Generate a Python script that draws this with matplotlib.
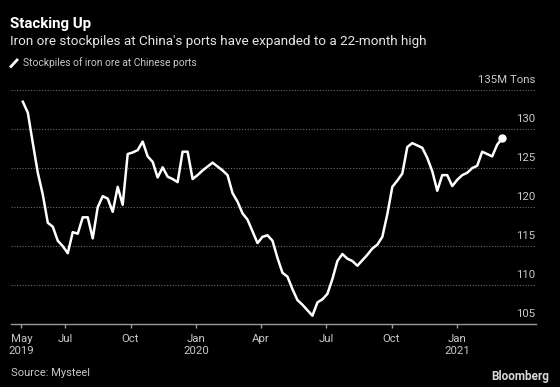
import matplotlib
matplotlib.use("Agg")
import matplotlib.pyplot as plt
import matplotlib.dates as mdates
import matplotlib.transforms as mtransforms
import numpy as np
import pandas as pd

# ---- data ----
start_date = "2019-05-03"
stockpiles = [133.5, 132.1, 128.2, 124.4, 121.6, 118.0, 117.5, 115.7, 115.0, 114.1,
              116.8, 116.6, 118.7, 118.7, 116.0, 120.0, 121.4, 121.1, 119.4, 122.6,
              120.3, 126.8, 127.0, 127.3, 128.4, 126.5, 125.8, 123.8, 125.1, 123.9,
              123.6, 123.2, 127.1, 127.1, 123.6, 124.1, 124.7, 125.2, 125.7, 125.2,
              124.7, 124.1, 121.8, 120.7, 119.2, 118.4, 116.9, 115.4, 116.2, 116.4,
              115.7, 113.5, 111.6, 111.1, 109.5, 108.1, 107.5, 106.8, 106.1, 107.8,
              108.2, 108.9, 110.8, 113.1, 114.0, 113.4, 113.1, 112.5, 113.2, 113.9,
              114.7, 115.2, 116.2, 119.1, 122.6, 123.4, 124.3, 127.7, 128.2, 127.9,
              127.6, 126.3, 124.6, 122.1, 124.1, 124.1, 122.7, 123.5, 124.1, 124.4,
              125.0, 125.3, 127.1, 126.8, 126.5, 128.0, 128.8]
dates = pd.date_range(start_date, periods=len(stockpiles), freq="7D")

y_ticks = [105, 110, 115, 120, 125, 130, 135]
y_labels = ["105", "110", "115", "120", "125", "130", "135M Tons"]
x_ticks = ["2019-05-01", "2019-07-01", "2019-10-01", "2020-01-01", "2020-04-01",
           "2020-07-01", "2020-10-01", "2021-01-01"]
x_labels = ["May\n2019", "Jul", "Oct", "Jan\n2020", "Apr", "Jul", "Oct", "Jan\n2021"]

title = "Stacking Up"
subtitle = "Iron ore stockpiles at China's ports have expanded to a 22-month high"
legend_label = "Stockpiles of iron ore at Chinese ports"
source = "Source: Mysteel"

# ---- figure ----
W, H = 560, 387
BG = "#000000"
GRID = "#6a6a6a"
TXT = "#c8c8c8"
FONT = "Roboto"

fig = plt.figure(figsize=(W / 100, H / 100), dpi=100, facecolor=BG)
plt.rcParams['font.family'] = [FONT, 'DejaVu Sans']

def fx(px):
    return px / W

def fy(py):
    return 1 - py / H

ax_left, ax_right, ax_top, ax_bot = 10.7, 535.7, 90.0, 324.3
ax = fig.add_axes([fx(ax_left), fy(ax_bot), fx(ax_right - ax_left), (ax_bot - ax_top) / H])
ax.set_facecolor(BG)

ax.plot(dates, stockpiles, color="white", lw=1.8, solid_joinstyle="round", zorder=3)
ax.plot(dates[-1:], stockpiles[-1:], "o", color="white", ms=5, zorder=4)

ax.set_ylim(105, 135)
ax.set_xlim(pd.Timestamp("2019-04-16"), pd.Timestamp("2021-04-21"))

for v in y_ticks[1:]:
    ax.axhline(v, color=GRID, lw=0.8, ls=(0, (1, 1.5)), zorder=1)

for s in ["top", "right", "left"]:
    ax.spines[s].set_visible(False)
ax.spines["bottom"].set_color("#9a9a9a")
ax.spines["bottom"].set_linewidth(1.0)

ax.set_yticks([])
ax.set_xticks(pd.to_datetime(x_ticks))
ax.set_xticklabels(x_labels, color=TXT, fontsize=8.2, linespacing=1.3)
ax.tick_params(axis="x", colors="#9a9a9a", length=3, width=1, pad=4, labelcolor=TXT)

off = mtransforms.offset_copy(ax.get_yaxis_transform(), fig=fig, x=0, y=10, units="dots")
for v, lab in zip(y_ticks, y_labels):
    ax.text(1.0, v, lab, transform=off, ha="right", va="center", color=TXT, fontsize=8.2)

fig.text(fx(10), fy(24), title, color="white", fontsize=10.8, fontweight="bold", va="center", ha="left")
fig.text(fx(10), fy(41), subtitle, color="#e6e6e6", fontsize=9.7, va="center", ha="left")

# legend glyph
fig.add_artist(plt.Line2D([fx(11), fx(17)], [fy(66.5), fy(60)], color="white", lw=2, transform=fig.transFigure))
fig.text(fx(23), fy(63), legend_label, color=TXT, fontsize=7.4, va="center", ha="left")

fig.text(fx(11), fy(373), source, color=TXT, fontsize=8, va="center", ha="left")
fig.text(fx(549), fy(376.5), "Bloomberg", color="#d8d8d8", fontsize=8.5, fontweight="bold", va="center", ha="right")

fig.savefig("out.png", dpi=100, facecolor=BG)
